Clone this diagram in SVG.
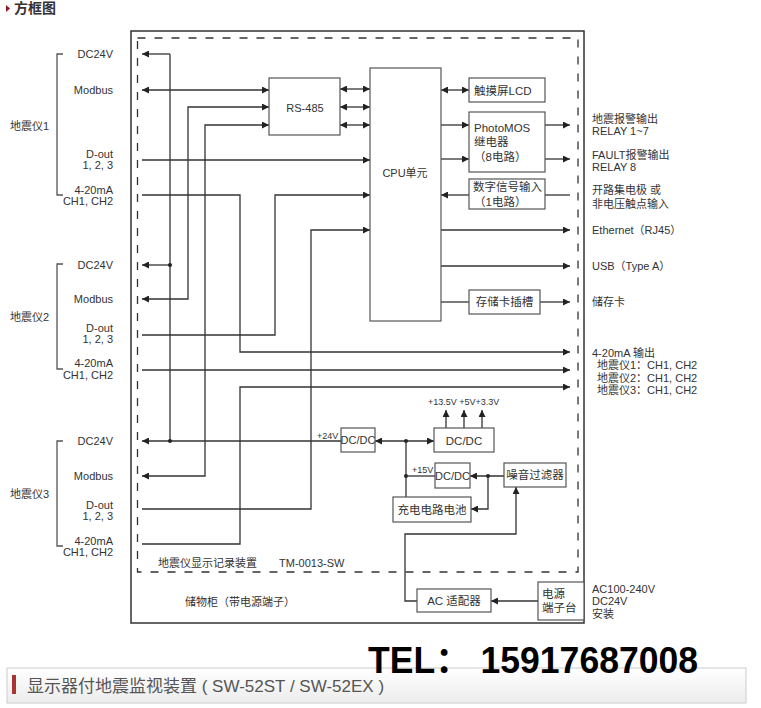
<svg xmlns="http://www.w3.org/2000/svg" width="761" height="708" viewBox="0 0 761 708">
<style>
text{font-family:"Liberation Sans","Noto Sans CJK SC",sans-serif;fill:#333;font-size:11px}
.bx{fill:#fff;stroke:#555;stroke-width:1.2}
.c{fill:none;stroke:#333;stroke-width:1.3}
.br{fill:none;stroke:#555;stroke-width:1.3}
.t12{font-size:11.5px}
.t9{font-size:9px}
.e{text-anchor:end}
.m{text-anchor:middle}
.ar{marker-end:url(#a)}
.da{marker-start:url(#a);marker-end:url(#a)}
.dot{fill:#222}
</style>
<defs>
<marker id="a" viewBox="0 0 10 10" refX="10" refY="5" markerWidth="8" markerHeight="7" markerUnits="userSpaceOnUse" orient="auto-start-reverse"><path d="M0,0L10,5L0,10z" fill="#222"/></marker>
<linearGradient id="g" x1="0" y1="0" x2="0" y2="1"><stop offset="0" stop-color="#fff"/><stop offset="1" stop-color="#ececec"/></linearGradient>
</defs>
<rect width="761" height="708" fill="#fff"/>

<g id="header">
<polygon points="6,5 10,8.5 6,12" fill="#8b1a2b"/>
<text x="14" y="13" style="font-size:14px;font-weight:bold">方框图</text>
</g>

<g id="cabinet">
<rect x="131" y="31" width="453" height="592" fill="none" stroke="#333" stroke-width="1.5"/>
<text x="185" y="606">储物柜（带电源端子）</text>
</g>
<g id="device">
<rect x="137.5" y="38" width="440.5" height="534" fill="none" stroke="#333" stroke-width="1.3" stroke-dasharray="8 9"/>
<text x="158" y="567">地震仪显示记录装置</text>
<text x="279" y="567">TM-0013-SW</text>
</g>

<g id="seismo1">
<path class="br" d="M63,54H57V195H63"/>
<text x="10" y="130">地震仪1</text>
<text class="e" x="113" y="58">DC24V</text>
<text class="e" x="113" y="94">Modbus</text>
<text class="e" x="113" y="158">D-out</text>
<text class="e" x="113" y="169">1, 2, 3</text>
<text class="e" x="113" y="194">4-20mA</text>
<text class="e" x="113" y="205">CH1, CH2</text>
</g>
<g id="seismo2">
<path class="br" d="M63,264H57V369H63"/>
<text x="10" y="321">地震仪2</text>
<text class="e" x="113" y="269">DC24V</text>
<text class="e" x="113" y="303">Modbus</text>
<text class="e" x="113" y="332">D-out</text>
<text class="e" x="113" y="343">1, 2, 3</text>
<text class="e" x="113" y="367">4-20mA</text>
<text class="e" x="113" y="379">CH1, CH2</text>
</g>
<g id="seismo3">
<path class="br" d="M63,441H57V546H63"/>
<text x="10" y="498">地震仪3</text>
<text class="e" x="113" y="445">DC24V</text>
<text class="e" x="113" y="480">Modbus</text>
<text class="e" x="113" y="509">D-out</text>
<text class="e" x="113" y="520">1, 2, 3</text>
<text class="e" x="113" y="545">4-20mA</text>
<text class="e" x="113" y="556">CH1, CH2</text>
</g>

<g id="connectors">
<path class="c ar" d="M170,54H142"/>
<path class="c" d="M170,54V441"/>
<path class="c ar" d="M170,265H142"/>
<path class="c ar" d="M341,441H142"/>
<circle class="dot" cx="170" cy="265" r="2"/>
<circle class="dot" cx="170" cy="441" r="2"/>
<path class="c da" d="M142,90H269"/>
<path class="c da" d="M142,299H188V107H269"/>
<path class="c da" d="M142,476H205V125H269"/>
<path class="c da" d="M340,89H370"/>
<path class="c da" d="M340,107H370"/>
<path class="c da" d="M340,125H370"/>
<path class="c ar" d="M142,160H370"/>
<path class="c ar" d="M142,195H240V352H570"/>
<path class="c ar" d="M142,335H275V195H370"/>
<path class="c ar" d="M142,509H311V230H370"/>
<path class="c ar" d="M142,370H570"/>
<path class="c ar" d="M142,544H240V387H570"/>
<path class="c da" d="M441,90H469"/>
<path class="c ar" d="M441,125H469"/>
<path class="c ar" d="M441,159H469"/>
<path class="c ar" d="M545,125H570"/>
<path class="c ar" d="M545,159H570"/>
<path class="c" d="M570,195H545"/>
<path class="c ar" d="M469,195H441"/>
<path class="c ar" d="M441,230H570"/>
<path class="c ar" d="M441,266H570"/>
<path class="c" d="M441,302H469"/>
<path class="c ar" d="M540,302H570"/>
<path class="c da" d="M375,441H434"/>
<circle class="dot" cx="406" cy="441" r="2"/>
<path class="c" d="M406,441V497"/>
<circle class="dot" cx="406" cy="476" r="2"/>
<path class="c" d="M406,476H435"/>
<path class="c ar" d="M504,476H470"/>
<circle class="dot" cx="488" cy="476" r="2"/>
<path class="c ar" d="M488,476V509H471"/>
<path class="c ar" d="M446,428V410"/>
<path class="c ar" d="M464,428V410"/>
<path class="c ar" d="M482,428V410"/>
<path class="c ar" d="M417,601H405V534H516V487"/>
<path class="c ar" d="M538,601H491"/>
</g>

<g id="rs485"><rect class="bx" x="269" y="78" width="71" height="57"/><text class="m" x="305" y="112">RS-485</text></g>
<g id="cpu"><rect class="bx" x="370" y="68" width="71" height="253"/><text class="m" x="405" y="177">CPU单元</text></g>
<g id="lcd"><rect class="bx" x="469" y="78" width="76" height="24"/><text class="t12" x="474" y="95">触摸屏LCD</text></g>
<g id="photomos"><rect class="bx" x="469" y="112" width="76" height="60"/>
<text class="t12" x="474" y="132">PhotoMOS</text><text class="t12" x="474" y="146">继电器</text><text class="t12" x="474" y="161">（8电路）</text></g>
<g id="digin"><rect class="bx" x="469" y="179" width="76" height="30"/>
<text class="t12" x="473" y="191">数字信号输入</text><text class="t12" x="474" y="206">（1电路）</text></g>
<g id="card"><rect class="bx" x="469" y="290" width="71" height="24"/><text class="m t12" x="504.5" y="306">存储卡插槽</text></g>
<g id="dcdc24"><rect class="bx" x="341" y="428" width="34" height="24"/><text class="m" x="358" y="444">DC/DC</text>
<text class="t9" x="317" y="439">+24V</text></g>
<g id="dcdcmain"><rect class="bx" x="434" y="428" width="60" height="24"/><text class="m t12" x="464" y="445">DC/DC</text>
<text class="t9" x="428" y="405">+13.5V +5V+3.3V</text></g>
<g id="dcdc15"><rect class="bx" x="435" y="463" width="35" height="25"/><text class="m" x="452.5" y="480">DC/DC</text>
<text class="t9" x="412" y="473">+15V</text></g>
<g id="filter"><rect class="bx" x="504" y="463" width="62" height="24"/><text class="m t12" x="535" y="479">噪音过滤器</text></g>
<g id="battery"><rect class="bx" x="393" y="497" width="78" height="25"/><text class="m t12" x="432" y="514">充电电路电池</text></g>
<g id="acadapter"><rect class="bx" x="417" y="589" width="74" height="23"/><text class="m t12" x="454" y="605">AC 适配器</text></g>
<g id="terminal"><rect class="bx" x="538" y="582" width="46" height="38"/>
<text class="t12" x="542" y="598">电源</text><text class="t12" x="542" y="612">端子台</text></g>

<g id="outputs">
<text x="592" y="123">地震报警输出</text><text x="592" y="135">RELAY 1~7</text>
<text x="592" y="159">FAULT报警输出</text><text x="592" y="171">RELAY 8</text>
<text x="592" y="194">开路集电极 或</text><text x="592" y="208">非电压触点输入</text>
<text x="592" y="234">Ethernet（RJ45）</text>
<text x="592" y="270">USB（Type A）</text>
<text x="592" y="306">储存卡</text>
<text x="592" y="357">4-20mA 输出</text>
<text x="597" y="369">地震仪1：CH1, CH2</text>
<text x="597" y="382">地震仪2：CH1, CH2</text>
<text x="597" y="394">地震仪3：CH1, CH2</text>
<text x="592" y="593">AC100-240V</text>
<text x="592" y="605">DC24V</text>
<text x="592" y="618">安装</text>
</g>

<g id="footer">
<rect x="7" y="668" width="739" height="35" fill="url(#g)" stroke="#ccc"/>
<rect x="12" y="675" width="4" height="19" fill="#a33"/>
<text x="27" y="692" style="font-size:17px;fill:#555">显示器付地震监视装置 ( SW-52ST / SW-52EX )</text>
<text x="368" y="673" textLength="330" lengthAdjust="spacingAndGlyphs" style="font-size:36px;font-weight:bold;fill:#000">TEL： 15917687008</text>
</g>
</svg>
